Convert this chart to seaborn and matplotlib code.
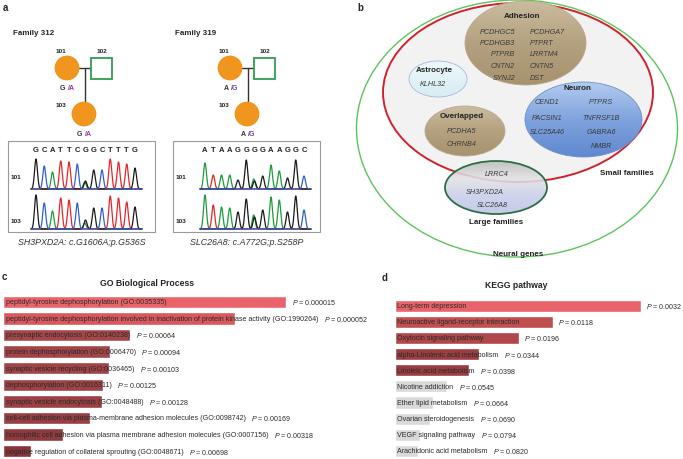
# plot.py
# ─────────────────────────────────────────────
# Four-panel figure: pedigrees + Sanger traces (a),
# gene-set diagram (b), GO / KEGG enrichment bars (c, d).
# ─────────────────────────────────────────────

import numpy as np
import pandas as pd
import matplotlib
matplotlib.use('Agg')                          # no display needed
import matplotlib.pyplot as plt
import seaborn as sns
from matplotlib.patches import Ellipse, Circle, Rectangle
from matplotlib.colors import LinearSegmentedColormap

# ── Data ────────────────────────────────────────────────────────────────
# panel a: two families
family_names = ["Family 312", "Family 319"]
member_ids   = ["101", "102", "103"]
geno_ref     = ["G", "A"]
geno_alt     = ["/A", "/G"]
variant_text = ["SH3PXD2A: c.G1606A;p.G536S", "SLC26A8: c.A772G;p.S258P"]

seq_312      = list("GCATTCGGCTTTG")
peaks_312_101 = [30, 23, 17, 28, 27, 25, 8, 19, 19, 30, 27, 25, 21]
peaks_312_103 = [34, 26, 18, 31, 29, 26, 9, 21, 21, 33, 31, 27, 22]
het_312      = (6, "A", [7, 6])        # (position, second base, heights 101/103)

seq_319      = list("ATAAGGGGAAGGC")
peaks_319_101 = [26, 14, 14, 14, 9, 29, 8, 13, 24, 18, 11, 29, 13]
peaks_319_103 = [34, 24, 22, 21, 17, 30, 12, 19, 32, 29, 17, 33, 19]
het_319      = (6, "A", [10, 14])

# panel b: gene groups
adhesion_left  = ["PCDHGC5", "PCDHGB3", "PTPRB", "CNTN2", "SYNJ2"]
adhesion_right = ["PCDHGA7", "PTPRT", "LRRTM4", "CNTN5", "DST"]
astrocyte_genes = ["KLHL32"]
neuron_left    = ["CEND1", "PACSIN1", "SLC25A46"]
neuron_right   = ["PTPRS", "TNFRSF1B", "GABRA6", "NMBR"]
overlap_genes  = ["PCDHA5", "CHRNB4"]
large_genes    = ["LRRC4", "SH3PXD2A", "SLC26A8"]

# panel c: GO biological process
go_terms = [
    "peptidyl-tyrosine dephosphorylation (GO:0035335)",
    "peptidyl-tyrosine dephosphorylation involved in inactivation of protein kinase activity (GO:1990264)",
    "presynaptic endocytosis (GO:0140238)",
    "protein dephosphorylation (GO:0006470)",
    "synaptic vesicle recycling (GO:0036465)",
    "dephosphorylation (GO:0016311)",
    "synaptic vesicle endocytosis (GO:0048488)",
    "cell-cell adhesion via plasma-membrane adhesion molecules (GO:0098742)",
    "homophilic cell adhesion via plasma membrane adhesion molecules (GO:0007156)",
    "negative regulation of collateral sprouting (GO:0048671)",
]
go_score = [283, 232, 127, 107, 106, 100, 99, 87, 60, 28]
go_p     = ["0.000015", "0.000052", "0.00064", "0.00094", "0.00103",
            "0.00125", "0.00128", "0.00169", "0.00318", "0.00698"]
go_colors = ["#e8646a", "#d9585d", "#a5474a", "#a24548", "#a04447",
             "#9d4245", "#9b4144", "#973e42", "#913a3e", "#88353a"]

# panel d: KEGG pathway
kegg_terms = [
    "Long-term depression", "Neuroactive ligand-receptor interaction",
    "Oxytocin signaling pathway", "alpha-Linolenic acid metabolism",
    "Linoleic acid metabolism", "Nicotine addiction", "Ether lipid metabolism",
    "Ovarian steroidogenesis", "VEGF signaling pathway",
    "Arachidonic acid metabolism",
]
kegg_score = [246, 158, 124, 84, 74, 52, 38, 35, 25, 23]
kegg_p     = ["0.0032", "0.0118", "0.0196", "0.0344", "0.0398",
              "0.0545", "0.0664", "0.0690", "0.0794", "0.0820"]
kegg_colors = ["#e8646a", "#c0504f", "#b0474a", "#9d3e41", "#9a3d40",
               "#d9d9d9", "#d9d9d9", "#d9d9d9", "#d9d9d9", "#d9d9d9"]

# ── Style ───────────────────────────────────────────────────────────────
sns.set_style("white")
plt.rcParams['font.family'] = ['Liberation Sans', 'DejaVu Sans']
plt.rcParams['mathtext.fontset'] = 'custom'
plt.rcParams['mathtext.rm'] = 'Liberation Sans'
plt.rcParams['mathtext.it'] = 'Liberation Sans:italic'

W, H = 683, 460
fig = plt.figure(figsize=(W / 100, H / 100), dpi=100)


def box(x, y, w, h):
    # pixel box (top-left origin) → figure fraction
    return [x / W, 1 - (y + h) / H, w / W, h / H]


def pix_axes(x, y, w, h):
    ax = fig.add_axes(box(x, y, w, h))
    ax.set_xlim(x, x + w)
    ax.set_ylim(y + h, y)
    ax.axis('off')
    return ax


# panel letters
for lab, (x, y) in zip("abcd", [(3, 8), (357, 8), (2, 277), (382, 278)]):
    fig.text(x / W, 1 - y / H, lab, fontsize=7, fontweight='bold',
             ha='left', va='center')

# ── 1. Panel a: pedigrees + chromatograms ───────────────────────────────
ax_a = pix_axes(0, 0, 340, 258)

ORANGE = "#f0961e"
GREEN  = "#2f9e4f"
base_color = {'G': '#1a1a1a', 'A': '#1f9a3c', 'T': '#e3262b', 'C': '#2f5fd1'}
alt_colors = ["#a2369c", "#6e3fa6"]

fam_layout = [
    dict(title=13, mom=(67, 69), dad=(101.5, 69.5), kid=(84, 115),
         box=(8, 142, 147, 91), x0=36, step=8.25),
    dict(title=175, mom=(230, 69), dad=(264.5, 69.5), kid=(247, 115),
         box=(173, 142, 147, 91), x0=205, step=8.25),
]
seqs  = [seq_312, seq_319]
peaks = [[peaks_312_101, peaks_312_103], [peaks_319_101, peaks_319_103]]
hets  = [het_312, het_319]

R, SQ = 11.7, 21
for k, L in enumerate(fam_layout):
    ax_a.text(L['title'], 34, family_names[k], fontsize=5.8, fontweight='bold',
              ha='left', va='center')
    (mx, my), (dx, dy), (kx, ky) = L['mom'], L['dad'], L['kid']
    # lines
    mid = (mx + R + dx - SQ / 2) / 2
    ax_a.plot([mx + R, dx - SQ / 2], [my, my], color='#333333', lw=1.0, zorder=1)
    ax_a.plot([mid, mid], [my, ky - R], color='#333333', lw=1.0, zorder=1)
    # symbols
    ax_a.add_patch(Circle((mx, my), R, color=ORANGE, zorder=2))
    ax_a.add_patch(Circle((kx, ky), R, color=ORANGE, zorder=2))
    ax_a.add_patch(Rectangle((dx - SQ / 2, dy - SQ / 2), SQ, SQ, facecolor='white',
                             edgecolor=GREEN, lw=1.3, zorder=2))
    # ids
    for (tx, ty), mid_txt in zip([(mx - 6, 52), (dx, 52), (kx - 23, 106)], member_ids):
        ax_a.text(tx, ty, mid_txt, fontsize=4.6, fontweight='bold',
                  ha='center', va='center', color='#222222')
    # genotypes
    for gx, gy in [(mx, 89), (kx, 135)]:
        ax_a.text(gx - 1.5, gy, geno_ref[k], fontsize=5, fontweight='bold',
                  ha='right', va='center', color='#333333')
        ax_a.text(gx + 0.8, gy, geno_alt[k], fontsize=5, fontweight='bold',
                  ha='left', va='center', color=alt_colors[k])

    # chromatogram box
    bx, by, bw, bh = L['box']
    ax_a.add_patch(Rectangle((bx, by), bw, bh, facecolor='white',
                             edgecolor='#9a9a9a', lw=0.8, zorder=1))
    xs = L['x0'] + L['step'] * np.arange(len(seqs[k]))
    for x, b in zip(xs, seqs[k]):
        ax_a.text(x, 151, b, fontsize=5.5, fontweight='bold', ha='center',
                  va='center', color='#222222')
    grid = np.linspace(xs[0] - 5, xs[-1] + 7, 800)
    hpos, hbase, hh = hets[k]
    for r, (base_y, lab_y) in enumerate([(190, 178), (230, 222)]):
        ax_a.text(bx + 3, lab_y, member_ids[0] if r == 0 else member_ids[2],
                  fontsize=4.6, fontweight='bold', ha='left', va='center',
                  color='#222222')
        for ch in ['A', 'T', 'G', 'C']:
            y = np.zeros_like(grid)
            for x, b, h in zip(xs, seqs[k], peaks[k][r]):
                if b == ch:
                    y += h * np.exp(-0.5 * ((grid - x) / 1.45) ** 2)
            if ch == hbase:
                y += hh[r] * np.exp(-0.5 * ((grid - xs[hpos] + 0.8) / 1.45) ** 2)
            ax_a.plot(grid, base_y - y, color=base_color[ch], lw=0.9, zorder=3)
    ax_a.text(bx + bw / 2, 243, variant_text[k], fontsize=6.4, style='italic',
              ha='center', va='center', color='#333333')

# ── 2. Panel b: gene-set diagram ────────────────────────────────────────
ax_b = pix_axes(340, 0, 343, 260)


def blob(ax, cx, cy, w, h, colors, edge, lw=0.6, z=2, alpha=1.0):
    e = Ellipse((cx, cy), w, h, facecolor='none', edgecolor=edge, lw=lw, zorder=z + 0.1)
    ax.add_patch(e)
    cmap = LinearSegmentedColormap.from_list('g', colors)
    grad = np.linspace(0, 1, 128).reshape(-1, 1)
    im = ax.imshow(grad, cmap=cmap, extent=(cx - w / 2, cx + w / 2, cy + h / 2, cy - h / 2),
                   aspect='auto', zorder=z, interpolation='bilinear', alpha=alpha)
    im.set_clip_path(e)


ax_b.add_patch(Ellipse((517, 129.5), 321, 257, facecolor='white',
                       edgecolor='#5cc45c', lw=1.0, zorder=0))
ax_b.add_patch(Ellipse((518, 93.5), 270, 179, facecolor='#f2f2f2',
                       edgecolor='#d0222e', lw=1.4, zorder=1))

TAN = ['#cbbc9f', '#b4a17f', '#a8926f']
blob(ax_b, 525.5, 44, 121, 84, TAN, '#b9a98d')
blob(ax_b, 465, 132, 80, 50, TAN, '#b9a98d')
blob(ax_b, 438, 80, 58, 36, ['#eef8fa', '#d6edf2'], '#a7b8de')
blob(ax_b, 583.5, 120.5, 117, 75, ['#b3cbee', '#7fa3de', '#5f88cf'], '#6d8fcb')
blob(ax_b, 496, 188.5, 102, 53, ['#b9b9b9', '#e2e2e6', '#c9cfea', '#bcc4e6'],
     '#2e6e45', lw=1.3, z=3, alpha=0.88)

GEN = dict(fontsize=5.2, style='italic', color='#3a3a3a', va='center')
HEAD = dict(fontsize=5.8, fontweight='bold', color='#222222', ha='center', va='center')

ax_b.text(522, 17, "Adhesion", **HEAD)
for y, gl, gr in zip([33, 43.5, 55, 67, 79], adhesion_left, adhesion_right):
    ax_b.text(515, y, gl, ha='right', **GEN)
    ax_b.text(530, y, gr, ha='left', **GEN)

ax_b.text(434, 71, "Astrocyte", **HEAD)
ax_b.text(433, 84.5, astrocyte_genes[0], ha='center', **GEN)

ax_b.text(577, 88, "Neuron", **HEAD)
for y, g in zip([103, 118.5, 133], neuron_left):
    ax_b.text(547, y, g, ha='center', **GEN)
for y, g in zip([103, 118.5, 133, 146.5], neuron_right):
    ax_b.text(601, y, g, ha='center', **GEN)

ax_b.text(462, 117, "Overlapped", **HEAD)
for y, g in zip([132, 145], overlap_genes):
    ax_b.text(462, y, g, ha='center', **GEN)

for (x, y), g in zip([(497, 175), (485, 193), (492, 205.5)], large_genes):
    ax_b.text(x, y, g, ha='center', zorder=5, **GEN)

ax_b.text(496, 223, "Large families", **HEAD)
ax_b.text(627, 174, "Small families", **HEAD)
ax_b.text(518, 254, "Neural genes", **HEAD)
ax_b.set_xlim(340, 683)
ax_b.set_ylim(260, 0)

# ── 3. Panels c / d: enrichment bars ────────────────────────────────────
renderer = fig.canvas.get_renderer()


def enrich_panel(x, y, w, h, terms, score, pvals, colors, title, title_xy):
    ax = fig.add_axes(box(x, y, w, h))
    df = pd.DataFrame({'term': terms, 'score': score})
    sns.barplot(data=df, x='score', y='term', hue='term', palette=colors,
                legend=False, saturation=1, width=0.75, ax=ax)
    ax.set_xlim(0, w)
    ax.set_ylim(len(terms) - 0.5, -0.5)
    ax.axis('off')
    for i, (t, s, p) in enumerate(zip(terms, score, pvals)):
        txt = ax.text(2.5, i, t, fontsize=5.15, color='#2a2a2a', ha='left', va='center')
        bb = txt.get_window_extent(renderer)
        x_end = ax.transData.inverted().transform((bb.x1, bb.y0))[0]
        ax.annotate(r'$P$ = ' + p, xy=(max(s, x_end), i), xytext=(4, 0),
                    textcoords='offset points', fontsize=5.15, color='#2a2a2a',
                    ha='left', va='center', annotation_clip=False)
    fig.text(title_xy[0] / W, 1 - title_xy[1] / H, title, fontsize=6.2,
             fontweight='bold', ha='center', va='center', color='#222222')
    return ax


enrich_panel(3, 294.5, 337, 166, go_terms, go_score, go_p, go_colors,
             "GO Biological Process", (147, 284))
enrich_panel(394.7, 298.6, 288.3, 161.4, kegg_terms, kegg_score, kegg_p, kegg_colors,
             "KEGG pathway", (516, 286))

fig.savefig("out.png", dpi=100)
plt.close()
print("Figure saved -> out.png")
